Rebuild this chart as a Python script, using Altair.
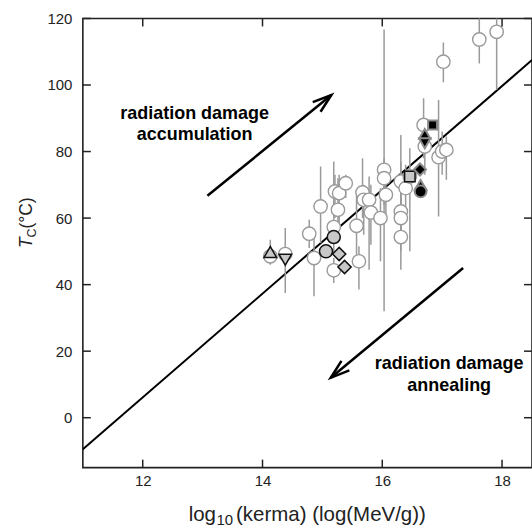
import math
import altair as alt
import pandas as pd

# ---- axes ----
X_DOMAIN = [11, 18.5]
Y_DOMAIN = [-15, 120]
X_TICKS = [12, 14, 16, 18]
Y_TICKS = [0, 20, 40, 60, 80, 100, 120]
W, H = 450, 450

# ---- open-circle samples: log10(kerma), Tc and the error range ----
kerma = [14.13, 14.38, 14.78, 14.86, 14.97, 15.19, 15.19, 15.21, 15.26, 15.28,
         15.39, 15.57, 15.61, 15.67, 15.69, 15.78, 15.81, 15.97, 16.03, 16.03,
         16.06, 16.31, 16.31, 16.31, 16.31, 16.39, 16.46, 16.69, 16.71, 16.94,
         17.00, 17.07, 17.02, 17.62, 17.91]
tc = [48.5, 49.2, 55.3, 48.0, 63.5, 44.3, 57.3, 68.0, 62.5, 67.5,
      70.5, 57.7, 47.0, 67.7, 65.5, 65.5, 61.7, 60.0, 74.5, 72.0,
      67.0, 62.0, 60.0, 54.3, 71.0, 69.0, 72.5, 88.0, 81.5, 78.3,
      80.0, 80.5, 107.0, 113.7, 116.0]
tc_lo = [46.0, 37.5, 51.0, 36.5, 52.5, 40.5, 49.0, 60.0, 55.0, 58.0,
         66.0, 49.0, 38.5, 60.0, 55.0, 44.5, 52.0, 47.0, 32.0, 64.0,
         60.0, 55.0, 50.0, 44.5, 62.0, 62.0, 50.0, 78.0, 73.0, 60.5,
         73.0, 71.5, 100.8, 106.5, 98.5]
tc_hi = [53.5, 57.0, 59.5, 54.0, 75.5, 48.0, 77.0, 73.0, 72.0, 73.0,
         73.0, 67.0, 51.5, 78.0, 70.0, 72.5, 70.0, 69.0, 116.7, 78.0,
         74.0, 68.0, 66.0, 85.0, 77.0, 76.0, 81.0, 96.0, 90.0, 95.5,
         86.0, 84.5, 112.8, 125.0, 125.0]

# ---- highlighted samples (grey-filled) ----
grey_kerma = [14.13, 14.38, 15.06, 15.19, 15.28, 15.37, 16.46]
grey_tc = [49.8, 47.5, 50.0, 54.3, 49.2, 45.3, 72.5]
grey_shape = ["triangle-up", "triangle-down", "circle", "circle",
              "diamond", "diamond", "square"]

# ---- highlighted samples (black-filled) ----
black_kerma = [16.84, 16.71, 16.71, 16.63, 16.64, 16.64]
black_tc = [88.0, 85.3, 82.5, 74.6, 70.0, 68.0]
black_shape = ["square", "triangle-up", "triangle-down", "diamond",
               "triangle-up", "circle"]

SHAPE_SIZE = {"circle": 170, "triangle-up": 160, "triangle-down": 160,
              "diamond": 175, "square": 110}

# ---- regression line ----
fit_kerma = [11.0, 18.5]
fit_tc = [-9.5, 107.5]

# ---- arrows: (start kerma, start Tc, tip kerma, tip Tc) ----
arrows = [(13.08, 66.7, 15.15, 97.0), (17.35, 45.0, 15.14, 12.0)]

FONT = "Liberation Sans"

xs = alt.Scale(domain=X_DOMAIN, nice=False, zero=False)
ys = alt.Scale(domain=Y_DOMAIN, nice=False, zero=False)

px_x = W / (X_DOMAIN[1] - X_DOMAIN[0])
px_y = H / (Y_DOMAIN[1] - Y_DOMAIN[0])


def arrow_rows(k, x0, y0, x1, y1, head=20, half=18):
    rows = [dict(g=f"s{k}", o=0, x=x0, y=y0), dict(g=f"s{k}", o=1, x=x1, y=y1)]
    dx = (x0 - x1) * px_x
    dy = -(y0 - y1) * px_y
    ang = math.atan2(dy, dx)
    pts = []
    for s in (1, -1):
        a = ang + s * math.radians(half)
        wx = x1 + head * math.cos(a) / px_x
        wy = y1 - head * math.sin(a) / px_y
        pts.append((wx, wy))
    rows += [dict(g=f"h{k}", o=0, x=pts[0][0], y=pts[0][1]),
             dict(g=f"h{k}", o=1, x=x1, y=y1),
             dict(g=f"h{k}", o=2, x=pts[1][0], y=pts[1][1])]
    return rows


arrow_df = pd.DataFrame([r for i, a in enumerate(arrows) for r in arrow_rows(i, *a)])

open_df = pd.DataFrame({"k": kerma, "t": tc, "lo": tc_lo, "hi": tc_hi})
grey_df = pd.DataFrame({"k": grey_kerma, "t": grey_tc, "s": grey_shape,
                        "z": [SHAPE_SIZE[s] for s in grey_shape]})
black_df = pd.DataFrame({"k": black_kerma, "t": black_tc, "s": black_shape,
                         "z": [SHAPE_SIZE[s] - 30 for s in black_shape]})
fit_df = pd.DataFrame({"k": fit_kerma, "t": fit_tc})

x_axis = alt.Axis(values=X_TICKS, format="d", ticks=False, tickSize=0, domain=False,
                  grid=False, title=None, labelFontSize=15, labelFont=FONT,
                  labelColor="#222", labelPadding=6)
y_axis = alt.Axis(values=Y_TICKS, format="d", ticks=False, tickSize=0, domain=False,
                  grid=False, title=None, labelFontSize=15, labelFont=FONT,
                  labelColor="#222", labelPadding=11)

fit = alt.Chart(fit_df).mark_line(color="black", strokeWidth=2, clip=True).encode(
    x=alt.X("k:Q", scale=xs, axis=x_axis),
    y=alt.Y("t:Q", scale=ys, axis=y_axis),
)

bars = alt.Chart(open_df).mark_rule(color="#9a9a9a", strokeWidth=1.5, clip=True).encode(
    x=alt.X("k:Q", scale=xs), y=alt.Y("lo:Q", scale=ys), y2="hi:Q"
)

circles = alt.Chart(open_df).mark_point(
    shape="circle", filled=True, fill="white", fillOpacity=1, stroke="#9a9a9a",
    strokeWidth=1.4, size=180, opacity=1, clip=True
).encode(x=alt.X("k:Q", scale=xs), y=alt.Y("t:Q", scale=ys))

grey_pts = alt.Chart(grey_df).mark_point(
    filled=True, fill="#c8c8c8", fillOpacity=1, stroke="#111", strokeWidth=1.5, opacity=1
).encode(
    x=alt.X("k:Q", scale=xs), y=alt.Y("t:Q", scale=ys),
    shape=alt.Shape("s:N", scale=None), size=alt.Size("z:Q", scale=None),
)

black_pts = alt.Chart(black_df).mark_point(
    filled=True, fill="black", fillOpacity=1, stroke="#8a8a8a", strokeWidth=2, opacity=1
).encode(
    x=alt.X("k:Q", scale=xs), y=alt.Y("t:Q", scale=ys),
    shape=alt.Shape("s:N", scale=None), size=alt.Size("z:Q", scale=None),
)

arrow_lines = alt.Chart(arrow_df).mark_line(color="black", strokeWidth=2.5).encode(
    x=alt.X("x:Q", scale=xs), y=alt.Y("y:Q", scale=ys),
    detail="g:N", order="o:Q",
)

# inward tick marks on all four sides
xt = pd.DataFrame({"v": X_TICKS})
yt = pd.DataFrame({"v": Y_TICKS})
TL = 8
tick_style = dict(color="#222", strokeWidth=1.5)
ticks_bottom = alt.Chart(xt).mark_rule(**tick_style).encode(
    x=alt.X("v:Q", scale=xs), y=alt.value(H), y2=alt.value(H - TL))
ticks_top = alt.Chart(xt).mark_rule(**tick_style).encode(
    x=alt.X("v:Q", scale=xs), y=alt.value(0), y2=alt.value(TL))
ticks_left = alt.Chart(yt).mark_rule(**tick_style).encode(
    y=alt.Y("v:Q", scale=ys), x=alt.value(0), x2=alt.value(TL))
ticks_right = alt.Chart(yt).mark_rule(**tick_style).encode(
    y=alt.Y("v:Q", scale=ys), x=alt.value(W), x2=alt.value(W - TL))

one = pd.DataFrame({"a": [0]})


def label(text, x, y, size, align="left", angle=0, weight="normal", style="normal",
          color="black"):
    kw = dict(text=text, align=align, baseline="alphabetic", fontSize=size,
              font=FONT, fontWeight=weight, fontStyle=style, color=color)
    if angle:
        kw["angle"] = angle
    return alt.Chart(one).mark_text(**kw).encode(x=alt.value(x), y=alt.value(y))


# annotation text
notes = [
    label("radiation damage", 112, 101, 18, align="center", weight="bold"),
    label("accumulation", 112, 121.5, 18, align="center", weight="bold"),
    label("radiation damage", 367, 351.5, 18, align="center", weight="bold"),
    label("annealing", 367, 373, 18, align="center", weight="bold"),
]

# axis titles built from pieces (subscripts)
titles = [
    label("log", 133.4, 503, 20.5, align="right", color="#222"),
    label("10", 133.8, 507.5, 15, align="left", color="#222"),
    label("(kerma) (log(MeV/g))", 153.5, 503, 20.5, align="left", color="#222"),
    label("T", -51, 230, 17.5, angle=270, style="italic", color="#222"),
    label("C", -47, 219.5, 12.5, angle=270, color="#222"),
    label("(°C)", -51, 210.5, 17.5, angle=270, color="#222"),
]

chart = alt.layer(
    fit, bars, circles, grey_pts, black_pts, arrow_lines,
    ticks_bottom, ticks_top, ticks_left, ticks_right,
    *notes, *titles,
).properties(
    width=W, height=H,
    autosize=alt.AutoSizeParams(type="none"),
    padding={"left": 83, "top": 18, "right": 0, "bottom": 61},
).configure_view(stroke="#222", strokeWidth=1.6)

chart.save("out.html", embed_options={"renderer": "svg", "actions": False})
